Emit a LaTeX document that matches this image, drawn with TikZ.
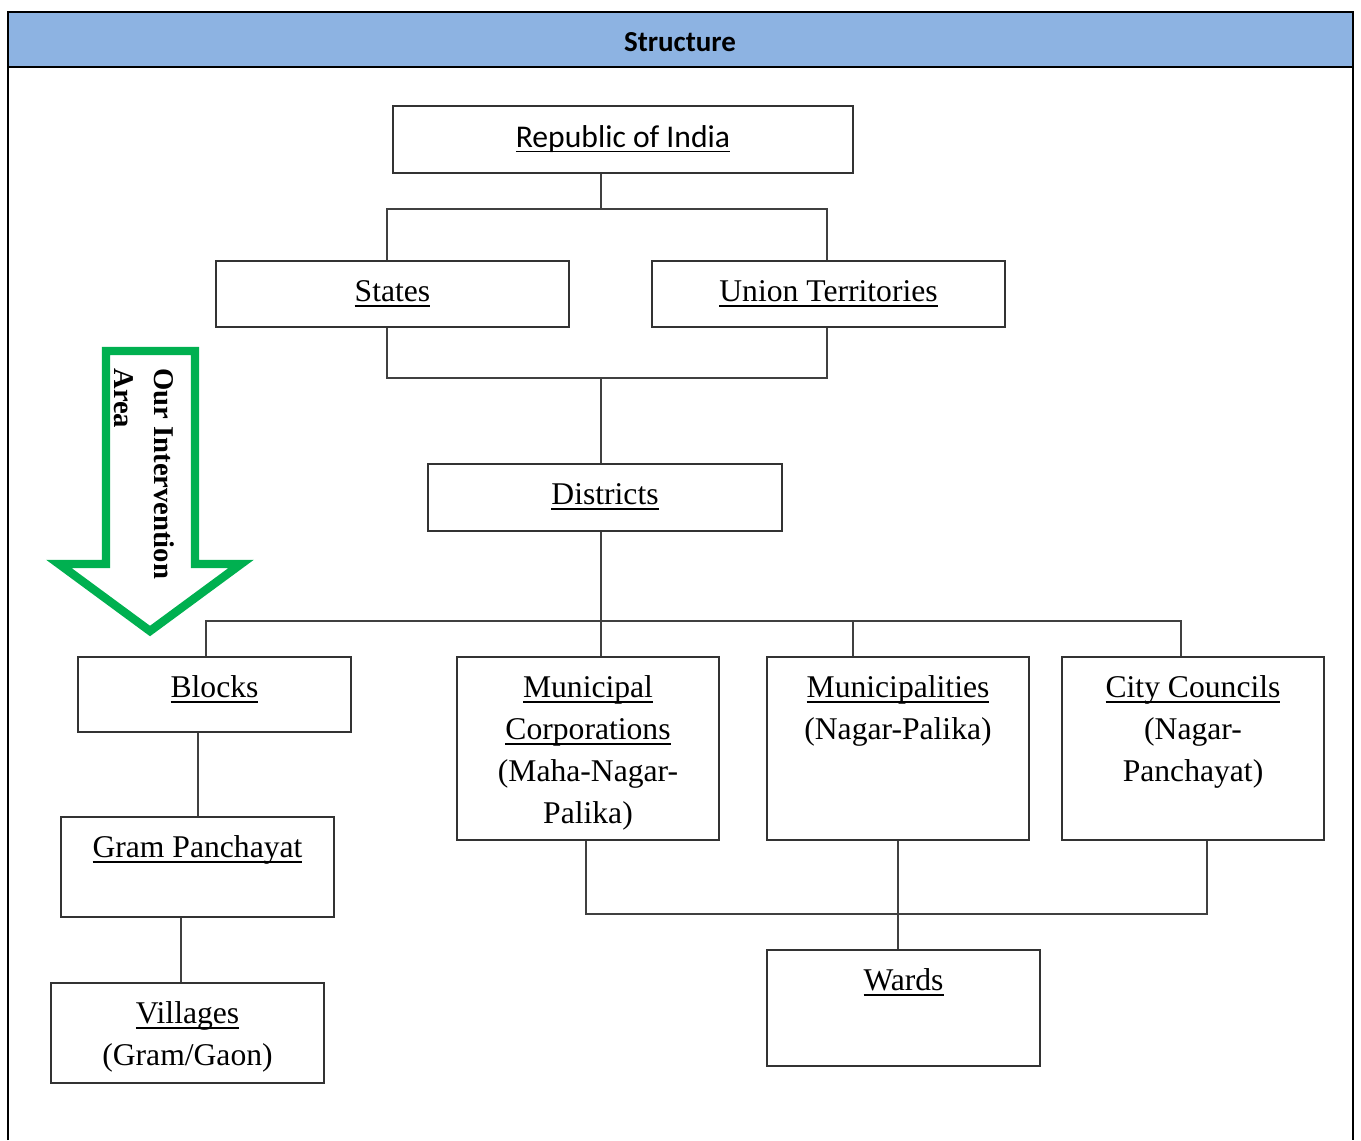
\documentclass[tikz,border=0pt]{standalone}
\usepackage{fontspec}
\setmainfont{Liberation Serif}
\newfontfamily\calibri{Carlito}
\usetikzlibrary{positioning}
\definecolor{headblue}{RGB}{141,179,226}
\definecolor{arrowgreen}{RGB}{0,176,80}
\newcommand\pxu{0.02cm}
\newcommand\undl[1]{\leavevmode\setbox0\hbox{#1}\rlap{\vrule height -1.9pt depth 2.9pt width \wd0}\box0}

\begin{document}
\begin{tikzpicture}[
x=0.02cm, y=-0.02cm,
font=\fontsize{18}{23.8}\selectfont,
box/.style={draw=black!80, line width=0.75pt, inner sep=0pt},
lbl/.style={anchor=north, inner sep=0pt, align=center},
link/.style={draw=black!75, line width=0.7pt}
]
    % page size
    \useasboundingbox (0,0) rectangle (1361,1140);

    % frame and header
    \fill[headblue] (8,12) rectangle (1353,67);
    \draw[line width=1.1pt] (8,1140) -- (8,12) -- (1353,12) -- (1353,1140);
    \draw[line width=0.8pt] (8,67) -- (1353,67);
    \node[font=\calibri\bfseries\fontsize{16.5}{20}\selectfont] (head) at (680,42) {Structure};

    % boxes
    \node[box, minimum width=460*\pxu, minimum height=67*\pxu] (rep) at (623,139.5) {};
    \node[box, minimum width=353*\pxu, minimum height=66*\pxu] (states) at (392.5,294) {};
    \node[box, minimum width=353*\pxu, minimum height=66*\pxu] (ut) at (828.5,294) {};
    \node[box, minimum width=354*\pxu, minimum height=67*\pxu] (dist) at (605,497.5) {};
    \node[box, minimum width=273*\pxu, minimum height=75*\pxu] (blocks) at (214.5,694.5) {};
    \node[box, minimum width=273*\pxu, minimum height=100*\pxu] (gram) at (197.5,867) {};
    \node[box, minimum width=273*\pxu, minimum height=100*\pxu] (vill) at (187.5,1033) {};
    \node[box, minimum width=262*\pxu, minimum height=183*\pxu] (mc) at (588,748.5) {};
    \node[box, minimum width=262*\pxu, minimum height=183*\pxu] (mun) at (898,748.5) {};
    \node[box, minimum width=262*\pxu, minimum height=183*\pxu] (cc) at (1193,748.5) {};
    \node[box, minimum width=273*\pxu, minimum height=116*\pxu] (wards) at (903.5,1008) {};

    % texts
    \node[lbl, below=12.4*\pxu of rep.north] (repT) {\calibri\strut\undl{Republic of India}};
    \node[lbl, below=12*\pxu of states.north] (statesT) {\strut\undl{States}};
    \node[lbl, below=12*\pxu of ut.north] (utT) {\strut\undl{Union Territories}};
    \node[lbl, below=12*\pxu of dist.north] (distT) {\strut\undl{Districts}};
    \node[lbl, below=12*\pxu of blocks.north] (blocksT) {\strut\undl{Blocks}};
    \node[lbl, below=12*\pxu of gram.north] (gramT) {\strut\undl{Gram Panchayat}};
    \node[lbl, below=12*\pxu of vill.north] (villT) {\strut\undl{Villages}\\(Gram/Gaon)};
    \node[lbl, below=12*\pxu of mc.north] (mcT) {\strut\undl{Municipal}\\\undl{Corporations}\\(Maha-Nagar-\\Palika)};
    \node[lbl, below=12*\pxu of mun.north] (munT) {\strut\undl{Municipalities}\\(Nagar-Palika)};
    \node[lbl, below=12*\pxu of cc.north] (ccT) {\strut\undl{City Councils}\\(Nagar-\\Panchayat)};
    \node[lbl, below=12*\pxu of wards.north] (wardsT) {\strut\undl{Wards}};

    % connectors
    \coordinate (jtop) at (601,209);
    \coordinate (jl) at (387,209);
    \coordinate (jr) at (827,209);
    \draw[link] (rep.south -| jtop) -- (jtop);
    \draw[link] (jl |- states.north) -- (jl) -- (jr) -- (jr |- ut.north);

    \coordinate (jmid) at (601,378);
    \coordinate (kl) at (387,378);
    \coordinate (kr) at (827,378);
    \draw[link] (kl |- states.south) -- (kl) -- (kr) -- (kr |- ut.south);
    \draw[link] (jmid) -- (jmid |- dist.north);

    \coordinate (jd) at (601,621);
    \coordinate (jbl) at (206,621);
    \coordinate (jmun) at (853,621);
    \coordinate (jcc) at (1181,621);
    \draw[link] (dist.south -| jd) -- (jd);
    \draw[link] (jbl |- blocks.north) -- (jbl) -- (jcc) -- (jcc |- cc.north);
    \draw[link] (jd) -- (jd |- mc.north);
    \draw[link] (jmun) -- (jmun |- mun.north);

    \coordinate (jg) at (198,0);
    \coordinate (jv) at (181,0);
    \draw[link] (blocks.south -| jg) -- (gram.north -| jg);
    \draw[link] (gram.south -| jv) -- (vill.north -| jv);

    \coordinate (wl) at (586,914);
    \coordinate (wm) at (898,914);
    \coordinate (wr) at (1207,914);
    \draw[link] (mc.south -| wl) -- (wl) -- (wr) -- (wr |- cc.south);
    \draw[link] (mun.south) -- (wards.north -| wm);

    % intervention arrow
    \draw[arrowgreen, line width=4.8pt, line join=miter]
        (106,351) -- (195,351) -- (195,564) -- (241,564) -- (150,631)
        -- (59,564) -- (106,564) -- cycle;
    \node[rotate=-90, anchor=north west, inner sep=0pt, align=left,
        font=\bfseries\fontsize{16.3}{22.7}\selectfont] (areaT) at (183,368)
        {\strut Our Intervention\\Area};

\end{tikzpicture}
\end{document}
